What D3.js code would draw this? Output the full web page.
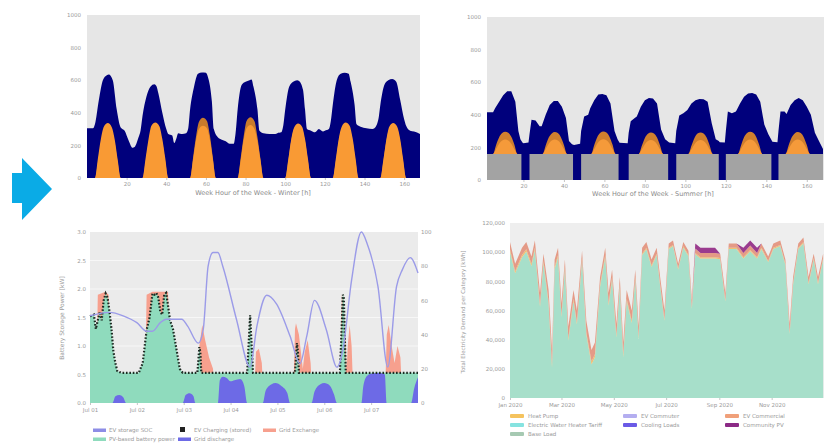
<!DOCTYPE html>
<html>
<head>
<meta charset="utf-8">
<script src="https://cdn.jsdelivr.net/npm/d3@7"></script>
<style>
  html, body { margin: 0; padding: 0; background: #fff; }
  svg { display: block; font-family: "DejaVu Sans", sans-serif; }
</style>
</head>
<body>
<svg id="chart" width="824" height="444"></svg>
<script>
// ---- top left: winter week ----
const loadWinterHours = [0,3,4,6,8,10,11,13,15,17,19,21,23,24, 26,27,28,30,32,34,35,36,38,40,41,43,44,45,46,48,
  50,51,52,54,56,58,60,61,63,64,66,68,70,72, 74,75,76,78,80,82,83,84,86,87,89,92,95,96,
  98,99,100,102,104,106,107,109,110,111,113,115,117,119,120, 122,123,124,126,128,130,132,133,135,136,138,141,144,
  145,147,148,150,152,154,156,158,160,161,163,165,168];
const loadWinter = [305,305,330,480,600,630,635,600,420,310,290,230,185,190, 250,290,380,500,560,575,565,520,400,300,270,260,215,240,275,270,
  275,300,420,560,640,648,645,620,470,300,250,235,225,210, 210,280,420,570,590,600,605,560,420,290,275,270,270,275,
  280,320,420,560,590,600,595,540,420,300,290,280,300,285,290, 300,350,450,600,640,645,640,590,450,330,315,305,300,
  305,360,450,570,600,607,590,480,360,320,290,285,270];
const pvWinterHours = [0, 4,5.5,7,8.5,10.5,12.5,14,15.5,17, 28,29.5,31,32.5,34.5,36.5,38,39.5,41,
  52,53.5,55,56.5,58.5,60.5,62,63.5,65, 76,77.5,79,80.5,82.5,84.5,86,87.5,89,
  100,101.5,103,104.5,106.5,108.5,110,111.5,113, 124,125.5,127,128.5,130.5,132.5,134,135.5,137,
  148,149.5,151,152.5,154.5,156.5,158,159.5,161, 168];
const pvWinterMax = [0, 0,95,215,295,318,292,215,95,0, 0,95,215,300,320,298,220,100,0,
  0,125,255,345,370,350,262,125,0, 0,120,252,350,372,348,250,118,0,
  0,100,225,300,320,300,225,100,0, 0,100,225,300,322,300,225,100,0,
  0,100,222,300,320,300,222,100,0, 0];
const pvWinterMean = [0, 0,120,240,315,337,312,235,110,0, 0,115,235,320,340,318,240,120,0,
  0,110,230,300,320,305,235,115,0, 0,105,230,305,325,300,225,110,0,
  0,110,235,310,335,315,240,115,0, 0,115,240,315,340,320,245,120,0,
  0,110,235,315,338,315,240,115,0, 0];

// ---- top right: summer week ----
const loadSummerHours = [2,5,6,8,10,12,14,16,17.5,18.5,19.5,20,22.5,23,24,26,28,29,31,33,35,37,39,41,42.5,44,45,48,48.5,50,
  52,53,55,57,59,61,63,65,66.5,67.5,71.5,72,73,75,76,78,80,82,84,86,88,90,92,95,95.5,97,99,101,103,105,
  107,109,111,113,115,116.5,117,119.5,120,121,123,125,127,129,131,133,135,137,139,141,
  143,145.5,146,147,149,150,152,154,156,158,160,162,164,166,168];
const loadSummer = [415,415,440,480,520,545,545,480,300,250,230,225,230,280,370,365,330,330,400,460,485,485,450,380,240,220,215,222,300,390,
  400,440,490,525,528,520,470,300,250,228,225,290,360,380,390,450,490,503,500,470,310,250,230,226,300,395,410,430,470,490,
  497,495,480,350,250,240,232,230,300,420,410,420,470,510,530,534,525,480,340,280,
  235,232,300,420,420,405,460,490,503,490,450,400,290,240,190];
const baseSummerHours = [2,19,23,44.5,48.5,67,72,91.5,95.5,116.5,120,142.5,146,168];
const baseSummer = [160,0,160,0,160,0,160,0,160,0,160,0,160,160];
const pvSummerFloor = 160;
const pvSummerHours = [2, 5,6.5,8,9.5,11,12.5,14,15.5,17, 29.5,31,32.5,34,35.5,37,38.5,40,41.5,
  53.5,55,56.5,58,59.5,61,62.5,64,65.5, 77,78.5,80,81.5,83,84.5,86,87.5,89,
  101.5,103,104.5,106,107.5,109,110.5,112,113.5, 126,127.5,129,130.5,132,133.5,135,136.5,138,
  149.5,151,152.5,154,155.5,157,158.5,160,161.5, 168];
const pvSummerMax = [160, 160,215,262,288,296,290,265,218,160, 160,212,260,286,294,288,262,215,160,
  160,215,264,290,298,292,266,218,160, 160,210,258,284,292,286,260,212,160,
  160,210,258,285,292,286,260,212,160, 160,212,262,288,296,290,264,215,160,
  160,212,260,286,294,288,262,214,160, 160];
const pvSummerMean = [160, 160,190,222,242,248,242,222,190,160, 160,190,222,242,248,242,222,190,160,
  160,190,224,244,250,244,224,190,160, 160,188,220,240,246,240,220,188,160,
  160,188,220,240,246,240,220,188,160, 160,190,222,242,248,242,222,190,160,
  160,190,222,242,248,242,222,190,160, 160];
const weekTicks = [20,40,60,80,100,120,140,160];
const powerTicks = [0,200,400,600,800,1000];

// ---- bottom left: one week of storage operation ----
const dayLabels = ["Jul 01","Jul 02","Jul 03","Jul 04","Jul 05","Jul 06","Jul 07"];
const dayTickHours = [0,24,48,72,96,120,144];
const storeHours = [0,2,3,4,5,6,7,8,9,10,11,12,13,14,16, 25,27,29,30.5,32,33,34,35,36,37,38,39,40,41,42.5,44,46,47.5,
  55,56,56.5,57, 80.5,81.5,82,82.5,83.5, 105,106,106.5,107, 128,129,129.5,130,131, 168];
const storePower = [1.52,1.55,1.3,1.45,1.6,1.45,1.8,1.92,1.85,1.6,1.3,0.9,0.7,0.56,0.53,
  0.53,0.7,1.28,1.5,1.92,1.9,1.93,1.85,1.6,1.55,1.9,1.93,1.7,1.45,1.3,1.0,0.6,0.53,
  0.53,0.98,0.9,0.53, 0.53,1.2,1.54,1.2,0.53, 0.53,1.05,0.9,0.53, 0.53,1.4,1.9,1.85,0.53, 0.53];
const exHours = [0,3,4,8,9.5,11, 28,29,32,40,41, 55,56,57.5,59,61,63,64, 84,85,86.5,88,89,
  104,105,105.5,107,109,110,111.5,113,114, 128,129,130,131.5,132,133,134,135,
  151,152,153,154.5,156,157.5,159,160, 168];
const exPower = [0,0,1.9,1.95,1.9,0, 0,1.9,1.95,1.95,0, 0,1.0,1.37,1.1,0.8,0.6,0, 0,0.9,0.95,0.7,0,
  0,1.3,1.4,1.2,0.6,0.9,1.1,0.7,0, 0,1.9,1.7,0.6,1.0,1.37,1.0,0,
  0,1.2,1.37,1.0,0.7,1.0,0.8,0, 0];
const disHours = [0,11.5,13,15,17,18.5, 47.5,49,51,53,54, 65.5,66.5,68,70,72,74,77,79,80.5,
  88.5,90,93,95,98,101,102.5, 113.5,115,118,120,123,125,126.5, 139,140,142,145,148,151,152, 164.5,166,168];
const disPower = [0,0,0.12,0.14,0.1,0, 0,0.14,0.17,0.12,0, 0,0.4,0.46,0.44,0.38,0.4,0.42,0.3,0,
  0,0.22,0.33,0.35,0.3,0.18,0, 0,0.2,0.33,0.35,0.3,0.15,0, 0,0.3,0.48,0.52,0.53,0.5,0, 0,0.25,0.45];
const socHours = [0,10,17,24,29,32,36,39,47,50,55.5,58,60.5,63,65.5,68,75,82,85.5,90.5,
  95.5,102.5,107.5,111,115,121,126.5,129.5,134,139,142,147.5,152.5,157,160,164,168];
const socPct = [51,53,51,47,42,42,47,49,49,45,35,43,80,88,88,80,49,21,45,63,
  58,39,23,39,60,43,21,31,72,100,93,68,21,68,78,85,76];
const kwTicks = [0,0.5,1,1.5,2,2.5,3];
const pctTicks = [0,20,40,60,80,100];

// ---- bottom right: daily demand over a year (stacked) ----
const demandDays = [0,6,14,19,25,29,35,39,45,49, 52,56,60,64,68,74,78,84,89,95,
  99,105,111,115,119,124,128,132,136,142, 146,150,154,159,165,171,175,180,185,190,
  196,202,208,212,216,222,229,239,245,251, 255,264,272,280,288,293,301,307,315,321,
  326,330,336,342,348,354,359,365];
const baseLoad = [100500,85500,96500,100500,90500,101500,62500,92500,64500,21000,
  88500,96500,55500,88500,39500,66500,50500,94500,43500,23000,
  28000,76500,96500,63500,81500,41500,76500,28000,66500,51500,
  81500,40500,98000,102000,90000,98000,77000,53000,102200,104200,
  88200,103200,97200,61200,98700,95700,95700,95700,95200,66200,
  102200,102200,95700,100700,95700,102200,93200,102200,104200,91200,
  44000,78000,102200,106200,78000,95200,78000,95200];
const heatPump = [1500,1500,1500,1500,1500,1500,1500,1500,1500,2000,
  1500,1500,1500,1500,1500,1500,1500,1500,1500,2000,
  2000,1500,1500,1500,1500,1500,1500,2000,1500,1500,
  1500,1500,1000,1000,1000,1000,1000,1000,800,800,
  800,800,800,800,800,800,800,800,800,800,
  800,800,800,800,800,800,800,800,800,800,
  1000,1000,800,800,1000,800,1000,800];
const evCommercial = [5000,5000,5000,5000,5000,5000,8000,5000,8000,10000,
  5000,5000,8000,5000,8000,6000,8000,5000,8000,8000,
  8000,5000,5000,7000,5000,8000,5000,8000,6000,7000,
  5000,7000,4000,4000,4000,4000,5000,6000,3000,3000,
  3000,3000,3000,5000,3000,3000,3000,3000,3000,5000,
  3000,3000,3000,3000,3000,3000,3000,3000,3000,3000,
  6000,4000,3000,3000,4000,3000,4000,3000];
const communityPv = [0,0,0,0,0,0,0,0,0,0, 0,0,0,0,0,0,0,0,0,0,
  0,0,0,0,0,0,0,0,0,0, 0,0,0,0,0,0,0,0,0,0,
  0,0,0,0,3500,3500,3500,3500,0,0, 0,0,3500,3500,3500,0,0,0,0,0,
  0,0,0,0,0,0,0,0];
const demandTicks = [0,20000,40000,60000,80000,100000,120000];
const monthTicks = [0,2,4,6,8,10];

/* helpers */
const svg = d3.select("#chart");
const TXT = "#9a9a9a";
const zip = (xs, ys) => xs.map((x, i) => [x, ys[i]]);

function plotBg(x0, x1, y0, y1, fill){
  svg.append("rect").attr("x", x0).attr("y", y0)
    .attr("width", x1 - x0).attr("height", y1 - y0).attr("fill", fill);
}
function styleAxis(g, size){
  g.attr("font-family", null);
  g.select(".domain").remove();
  g.selectAll(".tick line").attr("stroke", "#c4c4c4");
  g.selectAll("text").attr("fill", TXT).attr("font-size", size || 5.5);
}
function area(x, y, base){
  return d3.area().x(d => x(d[0])).y0(y(base)).y1(d => y(d[1]));
}

/* arrow */
svg.append("path")
  .attr("d", "M12,173 L22,173 L22,158 L52,189 L22,220 L22,203 L12,203 Z")
  .attr("fill", "#0aabe6");

/* 1) Winter week */
{
  const x = d3.scaleLinear().domain([0, 168]).range([87, 420]);
  const y = d3.scaleLinear().domain([0, 1000]).range([178, 15]);
  plotBg(87, 420, 15, 178, "#e6e6e6");
  svg.append("path").datum(zip(loadWinterHours, loadWinter))
    .attr("d", area(x, y, 0).curve(d3.curveMonotoneX)).attr("fill", "#00007c");
  svg.append("path").datum(zip(pvWinterHours, pvWinterMax))
    .attr("d", area(x, y, 0).curve(d3.curveMonotoneX)).attr("fill", "#c97b2c");
  svg.append("path").datum(zip(pvWinterHours, pvWinterMean))
    .attr("d", area(x, y, 0).curve(d3.curveMonotoneX)).attr("fill", "#f99a34");
  svg.append("g").attr("transform", "translate(87,0)")
    .call(d3.axisLeft(y).tickValues(powerTicks).tickFormat(d3.format("d")).tickSize(0).tickPadding(6))
    .call(g => styleAxis(g));
  svg.append("g").attr("transform", "translate(0,178)")
    .call(d3.axisBottom(x).tickValues(weekTicks).tickSize(2).tickPadding(2))
    .call(g => styleAxis(g));
  svg.append("text").attr("x", 253).attr("y", 195).attr("text-anchor", "middle")
    .attr("font-size", 6.5).attr("fill", "#8a8a8a")
    .text("Week Hour of the Week - Winter [h]");
}

/* 2) Summer week */
{
  const x = d3.scaleLinear().domain([2, 168]).range([487, 823]);
  const y = d3.scaleLinear().domain([0, 1000]).range([180, 17]);
  plotBg(487, 824, 17, 180, "#e6e6e6");
  svg.append("path").datum(zip(loadSummerHours, loadSummer))
    .attr("d", area(x, y, 0)).attr("fill", "#00007c");
  svg.append("path").datum(zip(baseSummerHours, baseSummer))
    .attr("d", area(x, y, 0).curve(d3.curveStepAfter)).attr("fill", "#a3a3a3");
  svg.append("path").datum(zip(pvSummerHours, pvSummerMax))
    .attr("d", area(x, y, pvSummerFloor).curve(d3.curveMonotoneX)).attr("fill", "#d07f2e");
  svg.append("path").datum(zip(pvSummerHours, pvSummerMean))
    .attr("d", area(x, y, pvSummerFloor).curve(d3.curveMonotoneX)).attr("fill", "#f59a3a");
  svg.append("g").attr("transform", "translate(487,0)")
    .call(d3.axisLeft(y).tickValues(powerTicks).tickFormat(d3.format("d")).tickSize(0).tickPadding(6))
    .call(g => styleAxis(g));
  svg.append("g").attr("transform", "translate(0,180)")
    .call(d3.axisBottom(x).tickValues(weekTicks).tickSize(2).tickPadding(2))
    .call(g => styleAxis(g));
  svg.append("text").attr("x", 653).attr("y", 196).attr("text-anchor", "middle")
    .attr("font-size", 6.5).attr("fill", "#8a8a8a")
    .text("Week Hour of the Week - Summer [h]");
}

/* 3) Storage week */
{
  const x = d3.scaleLinear().domain([0, 168]).range([90, 418]);
  const y = d3.scaleLinear().domain([0, 3]).range([403, 232]);
  const yr = d3.scaleLinear().domain([0, 100]).range([403, 232]);
  plotBg(90, 418, 232, 403, "#ebebeb");
  svg.append("g").selectAll("line").data(kwTicks.slice(1, -1)).join("line")
    .attr("x1", 90).attr("x2", 418).attr("y1", d => y(d)).attr("y2", d => y(d))
    .attr("stroke", "#fff").attr("stroke-width", 0.6);

  svg.append("path").datum(zip(exHours, exPower))
    .attr("d", area(x, y, 0)).attr("fill", "#f7a08e");
  svg.append("path").datum(zip(storeHours, storePower))
    .attr("d", area(x, y, 0)).attr("fill", "#8fdbbd");
  svg.append("path").datum(zip(disHours, disPower))
    .attr("d", area(x, y, 0).curve(d3.curveMonotoneX)).attr("fill", "#6d6ae6");
  svg.append("path").datum(zip(storeHours, storePower))
    .attr("d", d3.line().x(d => x(d[0])).y(d => y(d[1])))
    .attr("fill", "none").attr("stroke", "#1c2a22").attr("stroke-width", 2.2)
    .attr("stroke-dasharray", "1.6,1.8");
  svg.append("path").datum(zip(socHours, socPct))
    .attr("d", d3.line().x(d => x(d[0])).y(d => yr(d[1])).curve(d3.curveMonotoneX))
    .attr("fill", "none").attr("stroke", "#9b9be8").attr("stroke-width", 1.4);

  svg.append("g").attr("transform", "translate(90,0)")
    .call(d3.axisLeft(y).tickValues(kwTicks).tickFormat(d3.format(".1f")).tickSize(0).tickPadding(4))
    .call(g => styleAxis(g));
  svg.append("g").attr("transform", "translate(418,0)")
    .call(d3.axisRight(yr).tickValues(pctTicks).tickSize(0).tickPadding(3))
    .call(g => styleAxis(g));
  svg.append("g").attr("transform", "translate(0,403)")
    .call(d3.axisBottom(x).tickValues(dayTickHours).tickFormat((d, i) => dayLabels[i]).tickSize(2).tickPadding(3))
    .call(g => styleAxis(g));
  svg.append("text").attr("transform", "translate(64,318) rotate(-90)")
    .attr("text-anchor", "middle").attr("font-size", 6).attr("fill", TXT)
    .text("Battery Storage Power [kW]");

  // legend
  const leg = [
    { x: 93,  y: 432, c: "#8d8de6", t: "EV storage SOC" },
    { x: 178, y: 432, c: "#222",    t: "EV Charging (stored)", sq: true },
    { x: 263, y: 432, c: "#f7a08e", t: "Grid Exchange" },
    { x: 93,  y: 441, c: "#8fdbbd", t: "PV-based battery power" },
    { x: 178, y: 441, c: "#6d6ae6", t: "Grid discharge" }
  ];
  const lg = svg.append("g").selectAll("g").data(leg).join("g");
  lg.append("rect")
    .attr("x", d => d.sq ? d.x + 2 : d.x).attr("y", d => d.sq ? d.y - 5 : d.y - 3.5)
    .attr("width", d => d.sq ? 5 : 13).attr("height", d => d.sq ? 5 : 3.5)
    .attr("fill", d => d.c);
  lg.append("text").attr("x", d => d.x + 16).attr("y", d => d.y)
    .attr("font-size", 5.5).attr("fill", TXT).text(d => d.t);
}

/* 4) Yearly stacked demand */
{
  const rows = demandDays.map((d, i) => ({
    date: new Date(2020, 0, 1 + d),
    base: baseLoad[i], heat: heatPump[i], ev: evCommercial[i], comm: communityPv[i]
  }));
  const keys = ["base", "heat", "ev", "comm"];
  const fills = { base: "#a7dfca", heat: "#f0c070", ev: "#e49a86", comm: "#9a3b8e" };
  const series = d3.stack().keys(keys)(rows);

  const x = d3.scaleTime().domain([new Date(2020, 0, 1), new Date(2021, 0, 1)]).range([510, 824]);
  const y = d3.scaleLinear().domain([0, 120000]).range([398, 223]);
  plotBg(510, 824, 223, 398, "#eeeeee");
  svg.append("g").selectAll("path").data(series).join("path")
    .attr("fill", s => fills[s.key])
    .attr("d", d3.area().x(d => x(d.data.date)).y0(d => y(d[0])).y1(d => y(d[1])));

  svg.append("g").attr("transform", "translate(510,0)")
    .call(d3.axisLeft(y).tickValues(demandTicks).tickFormat(d3.format(",")).tickSize(0).tickPadding(5))
    .call(g => styleAxis(g));
  svg.append("g").attr("transform", "translate(0,398)")
    .call(d3.axisBottom(x).tickValues(monthTicks.map(m => new Date(2020, m, 1)))
      .tickFormat(d3.timeFormat("%b %Y")).tickSize(2).tickPadding(3))
    .call(g => styleAxis(g));
  svg.append("text").attr("transform", "translate(465,312) rotate(-90)")
    .attr("text-anchor", "middle").attr("font-size", 5.5).attr("fill", TXT)
    .text("Total Electricity Demand per Category [kWh]");

  const leg = [
    { x: 510, y: 418, c: "#f5c35e", t: "Heat Pump" },
    { x: 623, y: 418, c: "#b4aef0", t: "EV Commuter" },
    { x: 725, y: 418, c: "#f0a07a", t: "EV Commercial" },
    { x: 510, y: 427, c: "#86e3e0", t: "Electric Water Heater Tariff" },
    { x: 623, y: 427, c: "#6a5ae6", t: "Cooling Loads" },
    { x: 725, y: 427, c: "#8c2a86", t: "Community PV" },
    { x: 510, y: 436, c: "#a6c9b2", t: "Base Load" }
  ];
  const lg = svg.append("g").selectAll("g").data(leg).join("g");
  lg.append("rect").attr("x", d => d.x).attr("y", d => d.y - 4)
    .attr("width", 14).attr("height", 4).attr("rx", 1).attr("fill", d => d.c);
  lg.append("text").attr("x", d => d.x + 18).attr("y", d => d.y)
    .attr("font-size", 5.5).attr("fill", TXT).text(d => d.t);
}
</script>
</body>
</html>
